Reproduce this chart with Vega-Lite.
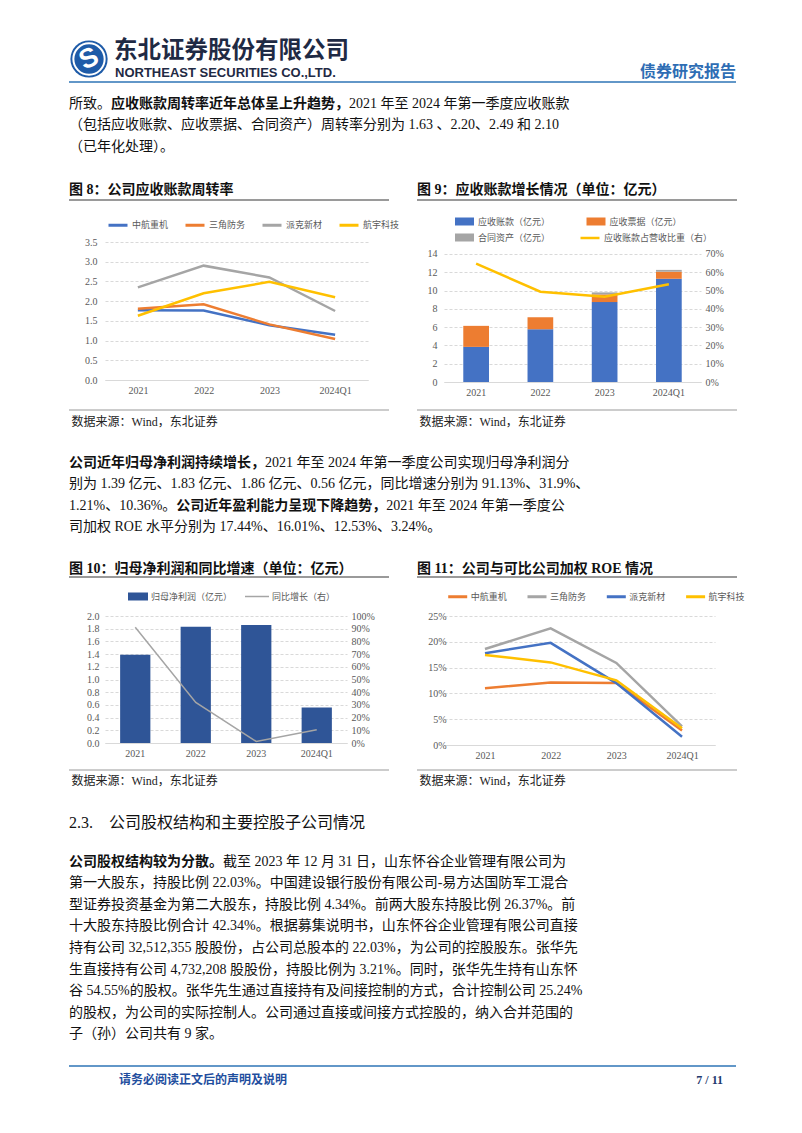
{
"$schema": "https://vega.github.io/schema/vega-lite/v6.json",
"background": "white",
"padding": {"left": 68, "top": 30, "right": 50, "bottom": 30},
"columns": 4,
"spacing": 0,
"bounds": "flush",
"align": "each",
"resolve": {"scale": {"color": "independent", "stroke": "independent"}, "legend": {"color": "independent", "stroke": "independent"}},
"config": {
  "view": {"stroke": null},
  "font": "Liberation Serif, Noto Sans CJK SC",
  "axis": {"labelFont": "Liberation Serif, Noto Sans CJK SC", "labelFontSize": 10, "labelColor": "#595959", "ticks": false, "domain": false, "gridColor": "#D9D9D9", "gridDash": [3, 2], "gridWidth": 1, "labelPadding": 7},
  "axisX": {"domain": true, "domainColor": "#D9D9D9", "grid": false, "labelAngle": 0, "labelPadding": 5},
  "legend": {"orient": "none", "direction": "horizontal", "labelFont": "Noto Sans CJK SC", "labelFontSize": 9, "labelColor": "#595959", "symbolSize": 100, "rowPadding": 5},
  "text": {"font": "Liberation Serif, Noto Sans CJK SC", "fontSize": 14, "color": "#111111", "align": "left", "baseline": "middle"}
},
"datasets": {
  "header": [
    {"part": "logo", "text": "S"},
    {"part": "name", "text": "东北证券股份有限公司"},
    {"part": "en", "text": "NORTHEAST SECURITIES CO.,LTD."},
    {"part": "type", "text": "债券研究报告"}
  ],
  "para1": [
    {"line": 1, "pre": "所致。", "strong": "应收账款周转率近年总体呈上升趋势，", "post": "2021 年至 2024 年第一季度应收账款"},
    {"line": 2, "text": "（包括应收账款、应收票据、合同资产）周转率分别为 1.63 、2.20、2.49 和 2.10"},
    {"line": 3, "text": "（已年化处理）。"}
  ],
  "para2": [
    {"line": 1, "strong": "公司近年归母净利润持续增长，", "post": "2021 年至 2024 年第一季度公司实现归母净利润分"},
    {"line": 2, "text": "别为 1.39 亿元、1.83 亿元、1.86 亿元、0.56 亿元，同比增速分别为 91.13%、31.9%、"},
    {"line": 3, "pre": "1.21%、10.36%。", "strong": "公司近年盈利能力呈现下降趋势，", "post": "2021 年至 2024 年第一季度公"},
    {"line": 4, "text": "司加权 ROE 水平分别为 17.44%、16.01%、12.53%、3.24%。"}
  ],
  "para3": [
    {"line": 1, "strong": "公司股权结构较为分散。", "post": "截至 2023 年 12 月 31 日，山东怀谷企业管理有限公司为"},
    {"line": 2, "text": "第一大股东，持股比例 22.03%。中国建设银行股份有限公司-易方达国防军工混合"},
    {"line": 3, "text": "型证券投资基金为第二大股东，持股比例 4.34%。前两大股东持股比例 26.37%。前"},
    {"line": 4, "text": "十大股东持股比例合计 42.34%。根据募集说明书，山东怀谷企业管理有限公司直接"},
    {"line": 5, "text": "持有公司 32,512,355 股股份，占公司总股本的 22.03%，为公司的控股股东。张华先"},
    {"line": 6, "text": "生直接持有公司 4,732,208 股股份，持股比例为 3.21%。同时，张华先生持有山东怀"},
    {"line": 7, "text": "谷 54.55%的股权。张华先生通过直接持有及间接控制的方式，合计控制公司 25.24%"},
    {"line": 8, "text": "的股权，为公司的实际控制人。公司通过直接或间接方式控股的，纳入合并范围的"},
    {"line": 9, "text": "子（孙）公司共有 9 家。"}
  ],
  "figtitles": [
    {"fig": 8, "text": "图 8：公司应收账款周转率"},
    {"fig": 9, "text": "图 9：应收账款增长情况（单位：亿元）"},
    {"fig": 10, "text": "图 10：归母净利润和同比增速（单位：亿元）"},
    {"fig": 11, "text": "图 11：公司与可比公司加权 ROE 情况"}
  ],
  "source": [{"text": "数据来源：Wind，东北证券"}],
  "section": [{"text": "2.3.\u00a0\u00a0\u00a0\u00a0公司股权结构和主要控股子公司情况"}],
  "footer": [
    {"part": "left", "text": "请务必阅读正文后的声明及说明"},
    {"part": "right", "text": "7 / 11"}
  ],
  "blank": [{"text": ""}],
  "fig8": [
    {"period": "2021", "company": "中航重机", "value": 1.77},
    {"period": "2022", "company": "中航重机", "value": 1.76},
    {"period": "2023", "company": "中航重机", "value": 1.39},
    {"period": "2024Q1", "company": "中航重机", "value": 1.15},
    {"period": "2021", "company": "三角防务", "value": 1.81},
    {"period": "2022", "company": "三角防务", "value": 1.92},
    {"period": "2023", "company": "三角防务", "value": 1.41},
    {"period": "2024Q1", "company": "三角防务", "value": 1.04},
    {"period": "2021", "company": "派克新材", "value": 2.35},
    {"period": "2022", "company": "派克新材", "value": 2.90},
    {"period": "2023", "company": "派克新材", "value": 2.60},
    {"period": "2024Q1", "company": "派克新材", "value": 1.75},
    {"period": "2021", "company": "航宇科技", "value": 1.63},
    {"period": "2022", "company": "航宇科技", "value": 2.20},
    {"period": "2023", "company": "航宇科技", "value": 2.49},
    {"period": "2024Q1", "company": "航宇科技", "value": 2.10}
  ],
  "fig9bars": [
    {"period": "2021", "series": "应收账款（亿元）", "value": 3.84},
    {"period": "2021", "series": "应收票据（亿元）", "value": 2.30},
    {"period": "2021", "series": "合同资产（亿元）", "value": 0},
    {"period": "2022", "series": "应收账款（亿元）", "value": 5.77},
    {"period": "2022", "series": "应收票据（亿元）", "value": 1.32},
    {"period": "2022", "series": "合同资产（亿元）", "value": 0},
    {"period": "2023", "series": "应收账款（亿元）", "value": 8.74},
    {"period": "2023", "series": "应收票据（亿元）", "value": 0.84},
    {"period": "2023", "series": "合同资产（亿元）", "value": 0.22},
    {"period": "2024Q1", "series": "应收账款（亿元）", "value": 11.29},
    {"period": "2024Q1", "series": "应收票据（亿元）", "value": 0.77},
    {"period": "2024Q1", "series": "合同资产（亿元）", "value": 0.20}
  ],
  "fig9ratio": [
    {"period": "2021", "ratio": 0.647},
    {"period": "2022", "ratio": 0.494},
    {"period": "2023", "ratio": 0.466},
    {"period": "2024Q1", "ratio": 0.534}
  ],
  "fig10": [
    {"period": "2021", "profit": 1.39, "growth": 0.9113},
    {"period": "2022", "profit": 1.83, "growth": 0.319},
    {"period": "2023", "profit": 1.86, "growth": 0.0121},
    {"period": "2024Q1", "profit": 0.56, "growth": 0.1036}
  ],
  "fig11": [
    {"period": "2021", "company": "中航重机", "roe": 0.110},
    {"period": "2022", "company": "中航重机", "roe": 0.121},
    {"period": "2023", "company": "中航重机", "roe": 0.120},
    {"period": "2024Q1", "company": "中航重机", "roe": 0.028},
    {"period": "2021", "company": "三角防务", "roe": 0.186},
    {"period": "2022", "company": "三角防务", "roe": 0.226},
    {"period": "2023", "company": "三角防务", "roe": 0.159},
    {"period": "2024Q1", "company": "三角防务", "roe": 0.036},
    {"period": "2021", "company": "派克新材", "roe": 0.178},
    {"period": "2022", "company": "派克新材", "roe": 0.198},
    {"period": "2023", "company": "派克新材", "roe": 0.120},
    {"period": "2024Q1", "company": "派克新材", "roe": 0.016},
    {"period": "2021", "company": "航宇科技", "roe": 0.1744},
    {"period": "2022", "company": "航宇科技", "roe": 0.1601},
    {"period": "2023", "company": "航宇科技", "roe": 0.1253},
    {"period": "2024Q1", "company": "航宇科技", "roe": 0.0324}
  ]
},
"concat": [
  {
    "width": 36, "height": 52,
    "data": {"name": "header"},
    "layer": [
      {"transform": [{"filter": "datum.part == 'logo'"}],
       "mark": {"type": "point", "shape": "circle", "filled": true, "size": 1385, "color": "#1E5BA8", "opacity": 1},
       "encoding": {"x": {"datum": 0.03, "type": "quantitative", "scale": {"domain": [0, 1], "range": [0, 667], "nice": false, "zero": false}, "axis": null},
                    "y": {"datum": 0.442, "type": "quantitative", "scale": {"domain": [0, 1], "nice": false, "zero": false}, "axis": null}}},
      {"transform": [{"filter": "datum.part == 'logo'"}],
       "mark": {"type": "point", "shape": "circle", "filled": false, "size": 980, "color": "white", "strokeWidth": 2, "opacity": 1},
       "encoding": {"x": {"datum": 0.03, "type": "quantitative"}, "y": {"datum": 0.442, "type": "quantitative"}}},
      {"transform": [{"filter": "datum.part == 'logo'"}],
       "mark": {"type": "text", "font": "Liberation Sans", "fontSize": 27, "fontWeight": "bold", "color": "white", "angle": -25, "align": "center", "baseline": "middle"},
       "encoding": {"x": {"datum": 0.03, "type": "quantitative"}, "y": {"datum": 0.442, "type": "quantitative"}, "text": {"field": "text"}}},
      {"transform": [{"filter": "datum.part == 'name'"}],
       "mark": {"type": "text", "font": "Noto Sans CJK SC", "fontSize": 23.5, "fontWeight": "bold", "color": "#1F2A44", "align": "left", "baseline": "middle"},
       "encoding": {"x": {"datum": 0.0675, "type": "quantitative"}, "y": {"datum": 0.587, "type": "quantitative"}, "text": {"field": "text"}}},
      {"transform": [{"filter": "datum.part == 'en'"}],
       "mark": {"type": "text", "font": "Liberation Sans", "fontSize": 13, "fontWeight": "bold", "color": "#1F2A44", "align": "left", "baseline": "middle"},
       "encoding": {"x": {"datum": 0.069, "type": "quantitative"}, "y": {"datum": 0.173, "type": "quantitative"}, "text": {"field": "text"}}},
      {"transform": [{"filter": "datum.part == 'type'"}],
       "mark": {"type": "text", "font": "Noto Sans CJK SC", "fontSize": 16, "fontWeight": "bold", "color": "#2E6DB4", "align": "right", "baseline": "middle"},
       "encoding": {"x": {"datum": 1, "type": "quantitative"}, "y": {"datum": 0.192, "type": "quantitative"}, "text": {"field": "text"}}},
      {"transform": [{"filter": "datum.part == 'logo'"}],
       "mark": {"type": "rule", "color": "#2E75B6", "strokeWidth": 1.5},
       "encoding": {"x": {"datum": 0, "type": "quantitative"}, "x2": {"datum": 1}, "y": {"datum": 0, "type": "quantitative"}}}
    ]
  },
  {"width": 1, "height": 1, "data": {"name": "blank"}, "mark": {"type": "rect", "opacity": 0}, "encoding": {}},
  {"width": 1, "height": 1, "data": {"name": "blank"}, "mark": {"type": "rect", "opacity": 0}, "encoding": {}},
  {"width": 1, "height": 1, "data": {"name": "blank"}, "mark": {"type": "rect", "opacity": 0}, "encoding": {}},

  {
    "width": 36, "height": 78,
    "data": {"name": "para1"},
    "layer": [
      {"transform": [{"filter": "datum.text"}],
       "mark": {"type": "text"},
       "encoding": {"x": {"datum": 0, "type": "quantitative", "scale": {"domain": [0, 1], "range": [0, 14], "nice": false, "zero": false}, "axis": null},
                    "y": {"field": "line", "type": "quantitative", "scale": {"domain": [-0.023, 3.605], "reverse": true, "nice": false, "zero": false}, "axis": null},
                    "text": {"field": "text"}}},
      {"transform": [{"filter": "datum.pre"}],
       "mark": {"type": "text"},
       "encoding": {"x": {"datum": 0, "type": "quantitative"}, "y": {"field": "line", "type": "quantitative"}, "text": {"field": "pre"}}},
      {"transform": [{"filter": "datum.strong"}],
       "mark": {"type": "text", "fontWeight": "bold"},
       "encoding": {"x": {"datum": 3, "type": "quantitative"}, "y": {"field": "line", "type": "quantitative"}, "text": {"field": "strong"}}},
      {"transform": [{"filter": "datum.post"}],
       "mark": {"type": "text"},
       "encoding": {"x": {"datum": 20, "type": "quantitative"}, "y": {"field": "line", "type": "quantitative"}, "text": {"field": "post"}}}
    ]
  },
  {"width": 1, "height": 1, "data": {"name": "blank"}, "mark": {"type": "rect", "opacity": 0}, "encoding": {}},
  {"width": 1, "height": 1, "data": {"name": "blank"}, "mark": {"type": "rect", "opacity": 0}, "encoding": {}},
  {"width": 1, "height": 1, "data": {"name": "blank"}, "mark": {"type": "rect", "opacity": 0}, "encoding": {}},

  {"width": 36, "height": 82, "data": {"name": "figtitles"}, "transform": [{"filter": "datum.fig == 8"}],
   "layer": [
     {"mark": {"type": "text", "fontWeight": "bold"},
      "encoding": {"x": {"datum": 0, "type": "quantitative", "scale": {"domain": [0, 1], "range": [0, 320], "nice": false, "zero": false}, "axis": null},
                   "y": {"datum": 0.634, "type": "quantitative", "scale": {"domain": [0, 1], "nice": false, "zero": false}, "axis": null},
                   "text": {"field": "text"}}},
     {"mark": {"type": "rule", "color": "#9A9A9A", "strokeWidth": 2}, "encoding": {"x": {"datum": 0, "type": "quantitative"}, "x2": {"datum": 1}, "y": {"datum": 0.512, "type": "quantitative"}}}
   ]},
  {"width": 1, "height": 1, "data": {"name": "blank"}, "mark": {"type": "rect", "opacity": 0}, "encoding": {}},
  {"width": 1, "height": 1, "data": {"name": "blank"}, "mark": {"type": "rect", "opacity": 0}, "encoding": {}},
  {"width": 257, "height": 82, "data": {"name": "figtitles"}, "transform": [{"filter": "datum.fig == 9"}],
   "layer": [
     {"mark": {"type": "text", "fontWeight": "bold"},
      "encoding": {"x": {"datum": 0, "type": "quantitative", "scale": {"domain": [0, 1], "range": [-27, 293], "nice": false, "zero": false}, "axis": null},
                   "y": {"datum": 0.634, "type": "quantitative", "scale": {"domain": [0, 1], "nice": false, "zero": false}, "axis": null},
                   "text": {"field": "text"}}},
     {"mark": {"type": "rule", "color": "#9A9A9A", "strokeWidth": 2}, "encoding": {"x": {"datum": 0, "type": "quantitative"}, "x2": {"datum": 1}, "y": {"datum": 0.512, "type": "quantitative"}}}
   ]},

  {"width": 36, "height": 1, "data": {"name": "blank"}, "mark": {"type": "rect", "opacity": 0}, "encoding": {}},
  {
    "width": 263, "height": 138,
    "data": {"name": "fig8"},
    "mark": {"type": "line", "strokeWidth": 2.5},
    "encoding": {
      "x": {"field": "period", "type": "nominal", "sort": null, "title": null},
      "y": {"field": "value", "type": "quantitative", "title": null, "scale": {"domain": [0, 3.5], "nice": false}, "axis": {"values": [0, 0.5, 1, 1.5, 2, 2.5, 3, 3.5], "format": ".1f", "labelPadding": 8}},
      "color": {"field": "company", "type": "nominal", "scale": {"domain": ["中航重机", "三角防务", "派克新材", "航宇科技"], "range": ["#4472C4", "#ED7D31", "#A5A5A5", "#FFC000"]},
                "legend": {"title": null, "symbolType": "M-1.9,0H1.9", "symbolStrokeWidth": 3, "columnPadding": 11, "labelOffset": 7.5, "legendX": 6.5, "legendY": -23.5}}
    }
  },
  {"width": 76, "height": 1, "data": {"name": "blank"}, "mark": {"type": "rect", "opacity": 0}, "encoding": {}},
  {
    "width": 257, "height": 140,
    "layer": [
      {"data": {"name": "fig9bars"},
       "mark": {"type": "bar"},
       "encoding": {
         "x": {"field": "period", "type": "nominal", "sort": null, "title": null, "scale": {"paddingInner": 0.6, "paddingOuter": 0.3}},
         "y": {"field": "value", "type": "quantitative", "stack": "zero", "title": null, "scale": {"domain": [0, 15.31], "nice": false}, "axis": {"values": [0, 2, 4, 6, 8, 10, 12, 14], "format": "d", "labelPadding": 7}},
         "color": {"field": "series", "type": "nominal",
                   "scale": {"domain": ["应收账款（亿元）", "应收票据（亿元）", "合同资产（亿元）"], "range": ["#4472C4", "#ED7D31", "#A5A5A5"]},
                   "legend": {"title": null, "columns": 2, "columnPadding": 35.5, "rowPadding": 5, "symbolType": "M-1.9,-0.8H1.9V0.8H-1.9Z", "labelOffset": 7.5, "legendX": 14.5, "legendY": -26.5}},
         "order": {"field": "series", "sort": "descending"}
       }},
      {"data": {"name": "fig9ratio"},
       "mark": {"type": "line", "strokeWidth": 2.5},
       "encoding": {
         "x": {"field": "period", "type": "nominal", "sort": null, "title": null},
         "y": {"field": "ratio", "type": "quantitative", "title": null, "scale": {"domain": [0, 0.7656], "nice": false}, "axis": {"orient": "right", "values": [0, 0.1, 0.2, 0.3, 0.4, 0.5, 0.6, 0.7], "format": ".0%", "grid": false, "labelPadding": 4}},
         "stroke": {"datum": "应收账款占营收比重（右）", "type": "nominal", "scale": {"range": ["#FFC000"]},
                    "legend": {"title": null, "symbolType": "M-1.9,0H1.9", "symbolStrokeWidth": 2.5, "labelOffset": 7.5, "legendX": 139.5, "legendY": -10.5}}
       }}
    ],
    "resolve": {"scale": {"y": "independent"}}
  },

  {"width": 36, "height": 52, "data": {"name": "source"},
   "layer": [
     {"mark": {"type": "rule", "color": "#9A9A9A", "strokeWidth": 1.2}, "encoding": {"x": {"datum": 0, "type": "quantitative", "scale": {"domain": [0, 1], "range": [0, 320], "nice": false, "zero": false}, "axis": null}, "x2": {"datum": 1}, "y": {"datum": 0.4615, "type": "quantitative", "scale": {"domain": [0, 1], "nice": false, "zero": false}, "axis": null}}},
     {"mark": {"type": "text", "fontSize": 12, "color": "#222222"},
      "encoding": {"x": {"datum": 0.008, "type": "quantitative"}, "y": {"datum": 0.2308, "type": "quantitative"}, "text": {"field": "text"}}}
   ]},
  {"width": 1, "height": 1, "data": {"name": "blank"}, "mark": {"type": "rect", "opacity": 0}, "encoding": {}},
  {"width": 1, "height": 1, "data": {"name": "blank"}, "mark": {"type": "rect", "opacity": 0}, "encoding": {}},
  {"width": 257, "height": 52, "data": {"name": "source"},
   "layer": [
     {"mark": {"type": "rule", "color": "#9A9A9A", "strokeWidth": 1.2}, "encoding": {"x": {"datum": 0, "type": "quantitative", "scale": {"domain": [0, 1], "range": [-27, 293], "nice": false, "zero": false}, "axis": null}, "x2": {"datum": 1}, "y": {"datum": 0.4615, "type": "quantitative", "scale": {"domain": [0, 1], "nice": false, "zero": false}, "axis": null}}},
     {"mark": {"type": "text", "fontSize": 12, "color": "#222222"},
      "encoding": {"x": {"datum": 0.008, "type": "quantitative"}, "y": {"datum": 0.2308, "type": "quantitative"}, "text": {"field": "text"}}}
   ]},

  {
    "width": 36, "height": 106,
    "data": {"name": "para2"},
    "layer": [
      {"transform": [{"filter": "datum.text"}],
       "mark": {"type": "text"},
       "encoding": {"x": {"datum": 0, "type": "quantitative", "scale": {"domain": [0, 1], "range": [0, 14], "nice": false, "zero": false}, "axis": null},
                    "y": {"field": "line", "type": "quantitative", "scale": {"domain": [-0.3615, 4.615], "reverse": true, "nice": false, "zero": false}, "axis": null},
                    "text": {"field": "text"}}},
      {"transform": [{"filter": "datum.pre"}],
       "mark": {"type": "text"},
       "encoding": {"x": {"datum": 0, "type": "quantitative"}, "y": {"field": "line", "type": "quantitative"}, "text": {"field": "pre"}}},
      {"transform": [{"filter": "datum.line == 1"}],
       "mark": {"type": "text", "fontWeight": "bold"},
       "encoding": {"x": {"datum": 0, "type": "quantitative"}, "y": {"field": "line", "type": "quantitative"}, "text": {"field": "strong"}}},
      {"transform": [{"filter": "datum.line == 1"}],
       "mark": {"type": "text"},
       "encoding": {"x": {"datum": 14, "type": "quantitative"}, "y": {"field": "line", "type": "quantitative"}, "text": {"field": "post"}}},
      {"transform": [{"filter": "datum.line == 3"}],
       "mark": {"type": "text", "fontWeight": "bold"},
       "encoding": {"x": {"datum": 7.667, "type": "quantitative"}, "y": {"field": "line", "type": "quantitative"}, "text": {"field": "strong"}}},
      {"transform": [{"filter": "datum.line == 3"}],
       "mark": {"type": "text"},
       "encoding": {"x": {"datum": 22.667, "type": "quantitative"}, "y": {"field": "line", "type": "quantitative"}, "text": {"field": "post"}}}
    ]
  },
  {"width": 1, "height": 1, "data": {"name": "blank"}, "mark": {"type": "rect", "opacity": 0}, "encoding": {}},
  {"width": 1, "height": 1, "data": {"name": "blank"}, "mark": {"type": "rect", "opacity": 0}, "encoding": {}},
  {"width": 1, "height": 1, "data": {"name": "blank"}, "mark": {"type": "rect", "opacity": 0}, "encoding": {}},

  {"width": 36, "height": 76, "data": {"name": "figtitles"}, "transform": [{"filter": "datum.fig == 10"}],
   "layer": [
     {"mark": {"type": "text", "fontWeight": "bold"},
      "encoding": {"x": {"datum": 0, "type": "quantitative", "scale": {"domain": [0, 1], "range": [0, 320], "nice": false, "zero": false}, "axis": null},
                   "y": {"datum": 0.618, "type": "quantitative", "scale": {"domain": [0, 1], "nice": false, "zero": false}, "axis": null},
                   "text": {"field": "text"}}},
     {"mark": {"type": "rule", "color": "#9A9A9A", "strokeWidth": 2}, "encoding": {"x": {"datum": 0, "type": "quantitative"}, "x2": {"datum": 1}, "y": {"datum": 0.513, "type": "quantitative"}}}
   ]},
  {"width": 1, "height": 1, "data": {"name": "blank"}, "mark": {"type": "rect", "opacity": 0}, "encoding": {}},
  {"width": 1, "height": 1, "data": {"name": "blank"}, "mark": {"type": "rect", "opacity": 0}, "encoding": {}},
  {"width": 257, "height": 76, "data": {"name": "figtitles"}, "transform": [{"filter": "datum.fig == 11"}],
   "layer": [
     {"mark": {"type": "text", "fontWeight": "bold"},
      "encoding": {"x": {"datum": 0, "type": "quantitative", "scale": {"domain": [0, 1], "range": [-27, 293], "nice": false, "zero": false}, "axis": null},
                   "y": {"datum": 0.618, "type": "quantitative", "scale": {"domain": [0, 1], "nice": false, "zero": false}, "axis": null},
                   "text": {"field": "text"}}},
     {"mark": {"type": "rule", "color": "#9A9A9A", "strokeWidth": 2}, "encoding": {"x": {"datum": 0, "type": "quantitative"}, "x2": {"datum": 1}, "y": {"datum": 0.513, "type": "quantitative"}}}
   ]},

  {"width": 36, "height": 1, "data": {"name": "blank"}, "mark": {"type": "rect", "opacity": 0}, "encoding": {}},
  {
    "width": 242, "height": 127,
    "data": {"name": "fig10"},
    "layer": [
      {"mark": {"type": "bar", "color": "#2F5597"},
       "encoding": {
         "x": {"field": "period", "type": "nominal", "sort": null, "title": null, "scale": {"paddingInner": 0.5, "paddingOuter": 0.25}},
         "y": {"field": "profit", "type": "quantitative", "title": null, "scale": {"domain": [0, 2], "nice": false}, "axis": {"values": [0, 0.2, 0.4, 0.6, 0.8, 1, 1.2, 1.4, 1.6, 1.8, 2], "format": ".1f", "labelPadding": 6}},
         "color": {"datum": "归母净利润（亿元）", "type": "nominal", "scale": {"range": ["#2F5597"]},
                   "legend": {"title": null, "symbolType": "M-2,-0.8H2V0.8H-2Z", "labelOffset": 7, "legendX": 27, "legendY": -25.5}}
       }},
      {"mark": {"type": "line", "strokeWidth": 1.5},
       "encoding": {
         "x": {"field": "period", "type": "nominal", "sort": null, "title": null},
         "y": {"field": "growth", "type": "quantitative", "title": null, "scale": {"domain": [0, 1], "nice": false}, "axis": {"orient": "right", "values": [0, 0.1, 0.2, 0.3, 0.4, 0.5, 0.6, 0.7, 0.8, 0.9, 1], "format": ".0%", "grid": false, "labelPadding": 4}},
         "stroke": {"datum": "同比增长（右）", "type": "nominal", "scale": {"range": ["#A5A5A5"]},
                    "legend": {"title": null, "symbolType": "M-2.4,0H2.4", "symbolStrokeWidth": 1.5, "labelOffset": 9, "legendX": 146, "legendY": -25.5}}
       }}
    ],
    "resolve": {"scale": {"y": "independent"}}
  },
  {"width": 76, "height": 1, "data": {"name": "blank"}, "mark": {"type": "rect", "opacity": 0}, "encoding": {}},
  {
    "width": 271, "height": 129,
    "data": {"name": "fig11"},
    "mark": {"type": "line", "strokeWidth": 2.5},
    "encoding": {
      "x": {"field": "period", "type": "nominal", "sort": null, "title": null, "scale": {"padding": 0.563, "align": 0.554}},
      "y": {"field": "roe", "type": "quantitative", "title": null, "scale": {"domain": [0, 0.25], "nice": false}, "axis": {"values": [0, 0.05, 0.1, 0.15, 0.2, 0.25], "format": ".0%", "labelPadding": 6, "offset": -8}},
      "color": {"field": "company", "type": "nominal", "scale": {"domain": ["中航重机", "三角防务", "派克新材", "航宇科技"], "range": ["#ED7D31", "#A5A5A5", "#4472C4", "#FFC000"]},
                "legend": {"title": null, "symbolType": "M-1.9,0H1.9", "symbolStrokeWidth": 3, "columnPadding": 14.3, "labelOffset": 6.5, "legendX": 7.2, "legendY": -26}}
    }
  },

  {"width": 36, "height": 52, "data": {"name": "source"},
   "layer": [
     {"mark": {"type": "rule", "color": "#9A9A9A", "strokeWidth": 1.2}, "encoding": {"x": {"datum": 0, "type": "quantitative", "scale": {"domain": [0, 1], "range": [0, 320], "nice": false, "zero": false}, "axis": null}, "x2": {"datum": 1}, "y": {"datum": 0.519, "type": "quantitative", "scale": {"domain": [0, 1], "nice": false, "zero": false}, "axis": null}}},
     {"mark": {"type": "text", "fontSize": 12, "color": "#222222"},
      "encoding": {"x": {"datum": 0.008, "type": "quantitative"}, "y": {"datum": 0.308, "type": "quantitative"}, "text": {"field": "text"}}}
   ]},
  {"width": 1, "height": 1, "data": {"name": "blank"}, "mark": {"type": "rect", "opacity": 0}, "encoding": {}},
  {"width": 1, "height": 1, "data": {"name": "blank"}, "mark": {"type": "rect", "opacity": 0}, "encoding": {}},
  {"width": 257, "height": 52, "data": {"name": "source"},
   "layer": [
     {"mark": {"type": "rule", "color": "#9A9A9A", "strokeWidth": 1.2}, "encoding": {"x": {"datum": 0, "type": "quantitative", "scale": {"domain": [0, 1], "range": [-27, 293], "nice": false, "zero": false}, "axis": null}, "x2": {"datum": 1}, "y": {"datum": 0.519, "type": "quantitative", "scale": {"domain": [0, 1], "nice": false, "zero": false}, "axis": null}}},
     {"mark": {"type": "text", "fontSize": 12, "color": "#222222"},
      "encoding": {"x": {"datum": 0.008, "type": "quantitative"}, "y": {"datum": 0.308, "type": "quantitative"}, "text": {"field": "text"}}}
   ]},

  {
    "width": 36, "height": 43,
    "data": {"name": "section"},
    "mark": {"type": "text", "fontSize": 16},
    "encoding": {"x": {"datum": 0, "type": "quantitative", "scale": {"domain": [0, 1], "nice": false, "zero": false}, "axis": null},
                 "y": {"datum": 0.395, "type": "quantitative", "scale": {"domain": [0, 1], "nice": false, "zero": false}, "axis": null},
                 "text": {"field": "text"}}
  },
  {"width": 1, "height": 1, "data": {"name": "blank"}, "mark": {"type": "rect", "opacity": 0}, "encoding": {}},
  {"width": 1, "height": 1, "data": {"name": "blank"}, "mark": {"type": "rect", "opacity": 0}, "encoding": {}},
  {"width": 1, "height": 1, "data": {"name": "blank"}, "mark": {"type": "rect", "opacity": 0}, "encoding": {}},

  {
    "width": 36, "height": 210,
    "data": {"name": "para3"},
    "layer": [
      {"transform": [{"filter": "datum.text"}],
       "mark": {"type": "text"},
       "encoding": {"x": {"datum": 0, "type": "quantitative", "scale": {"domain": [0, 1], "range": [0, 14], "nice": false, "zero": false}, "axis": null},
                    "y": {"field": "line", "type": "quantitative", "scale": {"domain": [-0.023, 9.744], "reverse": true, "nice": false, "zero": false}, "axis": null},
                    "text": {"field": "text"}}},
      {"transform": [{"filter": "datum.strong"}],
       "mark": {"type": "text", "fontWeight": "bold"},
       "encoding": {"x": {"datum": 0, "type": "quantitative"}, "y": {"field": "line", "type": "quantitative"}, "text": {"field": "strong"}}},
      {"transform": [{"filter": "datum.post"}],
       "mark": {"type": "text"},
       "encoding": {"x": {"datum": 11, "type": "quantitative"}, "y": {"field": "line", "type": "quantitative"}, "text": {"field": "post"}}}
    ]
  },
  {"width": 1, "height": 1, "data": {"name": "blank"}, "mark": {"type": "rect", "opacity": 0}, "encoding": {}},
  {"width": 1, "height": 1, "data": {"name": "blank"}, "mark": {"type": "rect", "opacity": 0}, "encoding": {}},
  {"width": 1, "height": 1, "data": {"name": "blank"}, "mark": {"type": "rect", "opacity": 0}, "encoding": {}},

  {
    "width": 36, "height": 45,
    "data": {"name": "footer"},
    "layer": [
      {"transform": [{"filter": "datum.part == 'left'"}],
       "mark": {"type": "rule", "color": "#2E75B6", "strokeWidth": 1.5},
       "encoding": {"x": {"datum": 0, "type": "quantitative", "scale": {"domain": [0, 1], "range": [0, 667], "nice": false, "zero": false}, "axis": null}, "x2": {"datum": 1},
                    "y": {"datum": 0.644, "type": "quantitative", "scale": {"domain": [0, 1], "nice": false, "zero": false}, "axis": null}}},
      {"transform": [{"filter": "datum.part == 'left'"}],
       "mark": {"type": "text", "fontSize": 12, "fontWeight": "bold", "font": "Noto Sans CJK SC", "color": "#1F4E9E"},
       "encoding": {"x": {"datum": 0.075, "type": "quantitative"}, "y": {"datum": 0.333, "type": "quantitative"}, "text": {"field": "text"}}},
      {"transform": [{"filter": "datum.part == 'right'"}],
       "mark": {"type": "text", "align": "right", "fontSize": 12, "fontWeight": "bold", "font": "Liberation Serif", "color": "#1F3A6E"},
       "encoding": {"x": {"datum": 0.9805, "type": "quantitative"}, "y": {"datum": 0.333, "type": "quantitative"}, "text": {"field": "text"}}}
    ]
  },
  {"width": 1, "height": 1, "data": {"name": "blank"}, "mark": {"type": "rect", "opacity": 0}, "encoding": {}},
  {"width": 1, "height": 1, "data": {"name": "blank"}, "mark": {"type": "rect", "opacity": 0}, "encoding": {}},
  {"width": 1, "height": 1, "data": {"name": "blank"}, "mark": {"type": "rect", "opacity": 0}, "encoding": {}}
]
}
